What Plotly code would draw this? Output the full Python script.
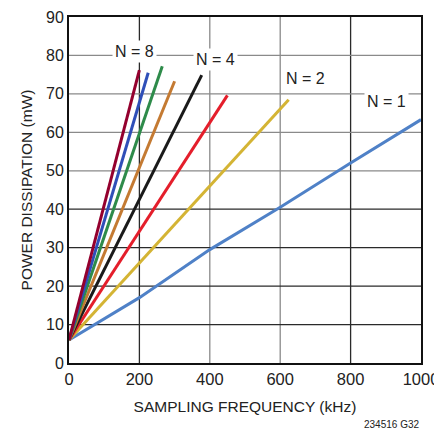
import plotly.graph_objects as go

# Data
series_names = ["N = 1", "N = 2", "N = 3", "N = 4", "N = 5", "N = 6", "N = 7", "N = 8"]
series_colors = ["#4F81C7", "#D4B434", "#E41E2B", "#1A1A1A", "#C47A32", "#2E8B4A", "#2F4FB8", "#94002E"]
x_n1 = [0, 200, 400, 600, 800, 1000]
y_n1 = [6, 17, 29.5, 40.5, 52, 63.3]
x_end = [624, 450, 377, 300, 265, 225, 200]
y_end = [68.5, 69.6, 74.9, 73.3, 77.2, 75.5, 76.2]
x_start = 0
y_start = 6

label_text = ["N = 8", "N = 4", "N = 2", "N = 1"]
label_x = [187, 415, 673, 903]
label_y = [81, 79, 74, 68]

x_ticks = [0, 200, 400, 600, 800, 1000]
y_ticks = [0, 10, 20, 30, 40, 50, 60, 70, 80, 90]

FONT = "Liberation Sans, Arial, sans-serif"

fig = go.Figure()

# gridlines as shapes (mixed shades as in reference)
for xv in x_ticks[1:-1]:
    col = "#8a8a8a" if xv in (400, 600) else "#2a2a2a"
    fig.add_shape(type="line", x0=xv, x1=xv, y0=0, y1=90, xref="x", yref="y",
                  line=dict(color=col, width=1.3), layer="below")
for yv in y_ticks[1:-1]:
    col = "#8a8a8a" if yv >= 50 else "#2a2a2a"
    fig.add_shape(type="line", x0=0, x1=1000, y0=yv, y1=yv, xref="x", yref="y",
                  line=dict(color=col, width=1.3), layer="below")

fig.add_trace(go.Scatter(x=x_n1, y=y_n1, mode="lines", name=series_names[0],
                         line=dict(color=series_colors[0], width=3)))
for i in range(len(x_end)):
    fig.add_trace(go.Scatter(x=[x_start, x_end[i]], y=[y_start, y_end[i]], mode="lines",
                             name=series_names[i + 1],
                             line=dict(color=series_colors[i + 1], width=3)))

for t, xv, yv in zip(label_text, label_x, label_y):
    fig.add_annotation(x=xv, y=yv, text=t, showarrow=False, bgcolor="white",
                       font=dict(family=FONT, size=16, color="#222"), borderpad=2)

fig.add_annotation(x=1, y=0, xref="paper", yref="paper", xanchor="right", yanchor="middle",
                   yshift=-61, text="234516 G32", showarrow=False,
                   font=dict(family=FONT, size=10, color="#222"))

# page body adds an 8px offset; size the figure to compensate
fig.update_layout(
    width=434, height=425,
    margin=dict(l=61, r=21, t=9, b=70),
    paper_bgcolor="white", plot_bgcolor="white",
    showlegend=False,
    font=dict(family=FONT, size=16, color="#222"),
)
fig.update_xaxes(range=[0, 1000], tickvals=x_ticks, showgrid=False, zeroline=False,
                 showline=True, linecolor="#111", linewidth=2, mirror=True,
                 ticks="", tickfont=dict(size=16.5), automargin=False,
                 ticklabeloverflow="allow",
                 title=dict(text="SAMPLING FREQUENCY (kHz)", font=dict(size=15.5), standoff=14))
fig.update_yaxes(range=[0, 90], tickvals=y_ticks, showgrid=False, zeroline=False,
                 showline=True, linecolor="#111", linewidth=2, mirror=True,
                 ticks="", tickfont=dict(size=16), automargin=False,
                 ticklabeloverflow="allow",
                 title=dict(text="POWER DISSIPATION (mW)", font=dict(size=15.5), standoff=10))

fig.write_html("out.html")
